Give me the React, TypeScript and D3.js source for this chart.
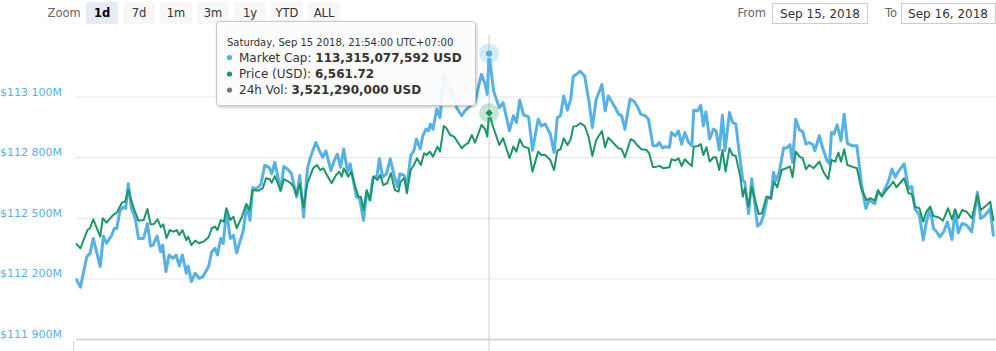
import React from 'react';
import * as d3 from 'd3';

// Sep 15 2018 11:06 (UTC+07:00), start of the 1d window
const START = Date.UTC(2018, 8, 15, 4, 6);
const DAY = 24 * 3600 * 1000;

const rangeButtons = ['1d', '7d', '1m', '3m', '1y', 'YTD', 'ALL'];
const selectedRange = '1d';
const fromDate = 'Sep 15, 2018';
const toDate = 'Sep 16, 2018';

const capTicks = [111900, 112200, 112500, 112800, 113100];

// [minutes after start, market cap in millions USD]
const capPoints: [number, number][] = [
  [1, 112195], [7, 112159], [17, 112310], [22, 112326], [27, 112400], [38, 112261], [43, 112412], [48, 112376],
  [56, 112416], [60, 112449], [64, 112449], [69, 112539], [74, 112556], [78, 112548], [82, 112671], [87, 112548],
  [93, 112499], [98, 112400], [106, 112400], [112, 112474], [117, 112362], [121, 112367], [127, 112412], [133, 112334],
  [136, 112367], [141, 112236], [146, 112318], [152, 112302], [157, 112318], [162, 112264], [167, 112318], [173, 112228],
  [176, 112264], [181, 112187], [187, 112228], [193, 112203], [199, 112211], [208, 112261], [213, 112334], [218, 112351],
  [222, 112318], [227, 112400], [231, 112376], [236, 112539], [242, 112400], [247, 112416], [252, 112329], [257, 112383],
  [262, 112433], [268, 112564], [273, 112490], [277, 112651], [283, 112646], [290, 112667], [296, 112761], [303, 112752],
  [307, 112720], [312, 112777], [321, 112638], [326, 112756], [333, 112740], [338, 112720], [346, 112605], [351, 112712],
  [357, 112506], [363, 112744], [367, 112794], [376, 112875], [382, 112834], [387, 112801], [392, 112834], [400, 112736],
  [405, 112785], [410, 112818], [415, 112752], [420, 112843], [426, 112728], [430, 112769], [435, 112687], [440, 112605],
  [445, 112597], [451, 112490], [456, 112629], [461, 112589], [466, 112703], [472, 112707], [476, 112794], [481, 112703],
  [487, 112720], [493, 112794], [499, 112712], [504, 112654], [508, 112720], [515, 112712], [519, 112654], [525, 112810],
  [530, 112834], [534, 112892], [540, 112843], [544, 112908], [549, 112941], [553, 112933], [556, 112966], [560, 112941],
  [566, 113040], [571, 112998], [577, 113212], [584, 113146], [589, 113130], [597, 113047], [605, 113007], [610, 113031],
  [618, 113056], [626, 113072], [631, 113146], [636, 113212], [642, 113162], [645, 113113], [648, 113315], [655, 113130],
  [664, 113047], [670, 113072], [680, 112933], [686, 113007], [691, 112974], [696, 113084], [702, 113011], [710, 113002],
  [716, 112836], [725, 112990], [730, 112957], [736, 112966], [744, 112917], [750, 112826], [755, 112998], [760, 113007],
  [765, 113105], [771, 113035], [776, 113089], [780, 113203], [785, 113212], [791, 113228], [798, 113203], [805, 113072],
  [810, 112949], [816, 113089], [825, 113162], [830, 113031], [835, 113105], [846, 113047], [851, 113015], [856, 113007],
  [861, 112941], [869, 113089], [875, 113080], [880, 113056], [886, 113015], [893, 113007], [898, 112990], [905, 112859],
  [911, 112859], [915, 112875], [920, 112848], [925, 112854], [931, 112851], [934, 112924], [940, 112908], [945, 112933],
  [950, 112867], [955, 112924], [961, 112875], [966, 112859], [969, 113035], [975, 113031], [980, 113059], [984, 112957],
  [988, 113026], [994, 112892], [1000, 112941], [1004, 112933], [1009, 112838], [1014, 113010], [1018, 112834], [1025, 113023],
  [1030, 112974], [1035, 112966], [1040, 112834], [1046, 112687], [1049, 112679], [1055, 112523], [1060, 112695], [1069, 112461],
  [1074, 112474], [1079, 112520], [1085, 112605], [1090, 112597], [1094, 112728], [1098, 112687], [1103, 112728], [1110, 112848],
  [1115, 112848], [1120, 112864], [1124, 112777], [1129, 112990], [1135, 112936], [1140, 112929], [1145, 112867], [1150, 112875],
  [1156, 112864], [1159, 112834], [1166, 112908], [1171, 112851], [1178, 112785], [1182, 112769], [1185, 112924], [1189, 112917],
  [1194, 112962], [1200, 112884], [1205, 113015], [1210, 112870], [1217, 112859], [1225, 112859], [1232, 112671], [1239, 112548],
  [1244, 112589], [1253, 112572], [1258, 112629], [1264, 112613], [1269, 112646], [1274, 112679], [1280, 112744], [1285, 112703],
  [1291, 112736], [1299, 112769], [1306, 112646], [1311, 112657], [1316, 112548], [1323, 112515], [1329, 112392], [1334, 112482],
  [1340, 112548], [1345, 112449], [1350, 112433], [1355, 112408], [1361, 112433], [1367, 112482], [1374, 112395], [1379, 112539],
  [1384, 112428], [1390, 112474], [1397, 112466], [1405, 112433], [1414, 112629], [1419, 112499], [1426, 112515], [1434, 112548],
  [1439, 112416],
];

// [minutes after start, price in USD]
const pricePoints: [number, number][] = [
  [1, 6496.2], [7, 6494.1], [18, 6503.2], [22, 6504.1], [27, 6508.6], [38, 6499.9], [42, 6509.1], [48, 6506.9],
  [58, 6510.7], [64, 6511.9], [72, 6516.9], [77, 6517.4], [82, 6523.2], [90, 6514.6], [98, 6507.9], [106, 6508.2],
  [112, 6513.7], [117, 6506.1], [122, 6506.2], [128, 6508.6], [133, 6504.6], [137, 6506.1], [142, 6499.1], [147, 6503.2],
  [153, 6502.4], [158, 6503.2], [162, 6500.7], [167, 6503.2], [173, 6498.2], [176, 6499.9], [181, 6495.7], [187, 6497.9],
  [193, 6496.6], [200, 6497.4], [208, 6499.6], [213, 6504.1], [218, 6504.9], [222, 6503.2], [227, 6508.2], [232, 6507.4],
  [236, 6514.1], [242, 6508.2], [247, 6509.9], [252, 6504.1], [260, 6509.6], [267, 6516.2], [272, 6513.2], [277, 6523.2],
  [286, 6522.9], [293, 6524.1], [298, 6529.1], [304, 6528.6], [307, 6526.9], [312, 6530.2], [321, 6522.9], [326, 6528.6],
  [336, 6526.9], [341, 6524.9], [346, 6520.7], [351, 6526.2], [357, 6514.5], [363, 6526.6], [372, 6534.1], [378, 6535.7],
  [383, 6533.2], [388, 6534.1], [392, 6531.6], [401, 6526.6], [408, 6530.7], [413, 6532.4], [417, 6529.9], [420, 6534.1],
  [427, 6529.9], [432, 6532.4], [438, 6524.9], [443, 6519.9], [447, 6519.9], [451, 6513.2], [456, 6523.2], [461, 6518.2],
  [467, 6529.9], [473, 6528.2], [477, 6530.7], [482, 6525.7], [488, 6526.6], [494, 6531.6], [500, 6523.2], [506, 6522.4],
  [509, 6527.4], [515, 6529.1], [519, 6521.6], [525, 6533.2], [530, 6535.7], [535, 6539.1], [541, 6535.7], [546, 6541.6],
  [550, 6540.7], [555, 6542.4], [560, 6539.9], [567, 6544.9], [571, 6542.4], [577, 6555.2], [581, 6554.1], [587, 6550.7],
  [593, 6549.9], [600, 6546.6], [605, 6544.1], [610, 6545.7], [615, 6546.6], [621, 6550.7], [626, 6546.9], [636, 6555.7],
  [642, 6553.6], [645, 6549.9], [648, 6561.72], [655, 6554.1], [664, 6545.7], [670, 6549.1], [680, 6539.1], [686, 6544.9],
  [691, 6542.4], [696, 6548.6], [702, 6544.9], [710, 6544.1], [716, 6532.4], [725, 6542.4], [730, 6540.7], [736, 6540.7],
  [744, 6538.2], [750, 6533.2], [755, 6542.9], [760, 6543.6], [765, 6549.1], [771, 6545.7], [776, 6548.6], [780, 6554.9],
  [785, 6555.2], [791, 6556.6], [798, 6555.2], [804, 6549.9], [810, 6540.2], [816, 6548.2], [825, 6552.7], [830, 6544.6],
  [835, 6549.4], [846, 6545.7], [851, 6544.1], [856, 6543.6], [861, 6539.6], [870, 6548.6], [875, 6547.9], [880, 6545.7],
  [887, 6543.6], [895, 6543.2], [899, 6541.6], [905, 6534.6], [911, 6534.9], [916, 6535.2], [921, 6534.1], [931, 6534.6],
  [934, 6538.6], [940, 6537.9], [945, 6539.1], [950, 6535.2], [955, 6538.6], [961, 6536.6], [966, 6535.2], [969, 6544.9],
  [976, 6545.2], [980, 6546.2], [984, 6540.7], [989, 6544.6], [994, 6537.4], [1000, 6539.6], [1004, 6539.6], [1009, 6533.2],
  [1014, 6543.2], [1019, 6532.4], [1025, 6544.1], [1030, 6540.7], [1035, 6540.2], [1042, 6529.9], [1046, 6519.9], [1049, 6524.1],
  [1055, 6514.9], [1060, 6524.9], [1071, 6511.2], [1076, 6511.6], [1083, 6519.9], [1090, 6519.1], [1095, 6527.4], [1100, 6524.6],
  [1107, 6533.2], [1114, 6534.1], [1120, 6534.9], [1124, 6529.6], [1129, 6542.4], [1135, 6539.9], [1140, 6539.1], [1145, 6533.6],
  [1150, 6535.7], [1157, 6534.1], [1166, 6537.4], [1173, 6531.9], [1180, 6528.6], [1185, 6538.2], [1191, 6537.4], [1196, 6541.9],
  [1200, 6537.4], [1205, 6543.6], [1210, 6535.7], [1217, 6534.9], [1225, 6534.1], [1232, 6523.6], [1240, 6518.2], [1246, 6519.1],
  [1253, 6517.9], [1258, 6523.2], [1264, 6519.9], [1271, 6523.2], [1277, 6525.2], [1282, 6527.4], [1287, 6524.6], [1299, 6529.1],
  [1306, 6521.6], [1311, 6521.2], [1316, 6514.9], [1323, 6514.1], [1329, 6507.4], [1334, 6512.4], [1340, 6514.9], [1345, 6510.2],
  [1353, 6509.6], [1360, 6507.9], [1368, 6514.1], [1374, 6508.6], [1379, 6513.6], [1384, 6509.1], [1390, 6513.2], [1397, 6512.4],
  [1405, 6509.1], [1414, 6520.7], [1419, 6513.2], [1426, 6514.9], [1434, 6517.4], [1439, 6508.2],
];

// hovered point (tooltip)
const hoverMinute = 648;
const hoverHeader = 'Saturday, Sep 15 2018, 21:54:00 UTC+07:00';
const hoverCap = 113315077592;
const hoverPrice = 6561.72;
const hoverVol = 3521290000;

const BLUE = '#55b1e7';
const GREEN = '#1b9665';
const FONT = '"DejaVu Sans", "Lucida Grande", Verdana, sans-serif';

export default function App() {
  const width = 996;
  const height = 351;
  const left = 76;
  const right = 994;
  const top = 97;
  const bottom = 339.5;

  const x = d3.scaleTime().domain([new Date(START), new Date(START + DAY)]).range([left, right]);
  const yCap = d3.scaleLinear().domain([111900, 113100]).range([bottom, top]);
  const yPrice = d3.scaleLinear().domain([6448.5, 6569.7]).range([bottom, top]);
  const t = (m: number) => new Date(START + m * 60000);

  const capLine = d3.line<[number, number]>().x(d => x(t(d[0]))).y(d => yCap(d[1]));
  const priceLine = d3.line<[number, number]>().x(d => x(t(d[0]))).y(d => yPrice(d[1]));

  const capLabel = (v: number) => '$' + d3.format(',')(v).replace(',', ' ') + 'M';

  const hx = x(t(hoverMinute));
  const capPt = capPoints.find(d => d[0] === hoverMinute)!;
  const pricePt = pricePoints.find(d => d[0] === hoverMinute)!;
  const hyCap = yCap(capPt[1]);
  const hyPrice = yPrice(pricePt[1]);

  const fmtInt = d3.format(',');
  const fmtPrice = d3.format(',.2f');

  return (
    <svg width={width} height={height} style={{ position: 'absolute', left: 0, top: 0, fontFamily: FONT }}>
      <defs>
        <filter id="tipShadow" x="-10%" y="-10%" width="130%" height="140%">
          <feDropShadow dx="1" dy="1.5" stdDeviation="1.5" floodColor="#000" floodOpacity="0.22" />
        </filter>
      </defs>
      <rect width={width} height={height} fill="#fff" />

      {/* range selector */}
      <text x={47.5} y={17} fontSize={11.5} fill="#666">Zoom</text>
      {rangeButtons.map((b, i) => {
        const bx = 86 + i * 37;
        const sel = b === selectedRange;
        return (
          <g key={b}>
            <rect x={bx} y={2} width={32} height={22} rx={2} fill={sel ? '#e6ebf5' : '#f7f7f7'} />
            <text x={bx + 16} y={17} fontSize={11.5} textAnchor="middle" fill={sel ? '#000' : '#333'} fontWeight={sel ? 'bold' : 'normal'}>{b}</text>
          </g>
        );
      })}

      <text x={766} y={17} fontSize={11.5} fill="#666" textAnchor="end">From</text>
      <rect x={772.5} y={3.5} width={95} height={20} fill="#fff" stroke="#ccc" />
      <text x={820} y={17.5} fontSize={12} fill="#333" textAnchor="middle">{fromDate}</text>
      <text x={897} y={17} fontSize={11.5} fill="#666" textAnchor="end">To</text>
      <rect x={901.5} y={3.5} width={94} height={20} fill="#fff" stroke="#ccc" />
      <text x={948} y={17.5} fontSize={12} fill="#333" textAnchor="middle">{toDate}</text>

      {/* grid + y labels */}
      {capTicks.map((v, i) => (
        <g key={v}>
          <line x1={left} x2={width} y1={yCap(v)} y2={yCap(v)} stroke={i === 0 ? '#d8d8d8' : '#e6e6e6'} strokeWidth={i === 0 ? 2 : 1} />
          <text x={0} y={yCap(v) - 1.5} fontSize={11} fill={BLUE}>{capLabel(v)}</text>
        </g>
      ))}
      <line x1={73.5} x2={73.5} y1={341} y2={height} stroke="#cfd8e6" />

      {/* crosshair */}
      <line x1={hx} x2={hx} y1={35} y2={height} stroke="#cccccc" strokeWidth={1} />

      {/* series */}
      <path d={capLine(capPoints) ?? ''} fill="none" stroke={BLUE} strokeWidth={3} strokeLinejoin="round" strokeLinecap="round" />
      <path d={priceLine(pricePoints) ?? ''} fill="none" stroke={GREEN} strokeWidth={2} strokeLinejoin="round" strokeLinecap="round" />

      {/* hover markers */}
      <circle cx={hx} cy={hyCap} r={10} fill={BLUE} fillOpacity={0.25} />
      <circle cx={hx} cy={hyCap} r={4} fill={BLUE} stroke="#fff" strokeWidth={1} />
      <circle cx={hx} cy={hyPrice} r={10} fill={GREEN} fillOpacity={0.25} />
      <path d={`M${hx},${hyPrice - 4.5}L${hx + 4.5},${hyPrice}L${hx},${hyPrice + 4.5}L${hx - 4.5},${hyPrice}Z`} fill={GREEN} stroke="#fff" strokeWidth={1} />

      {/* tooltip */}
      <g>
        <rect x={216.5} y={21.5} width={259} height={84} rx={3} fill="#fff" fillOpacity={0.88} stroke="#c8c8c8" filter="url(#tipShadow)" />
        <text x={227} y={46} fontSize={10} fill="#333">{hoverHeader}</text>
        <circle cx={229.5} cy={57.5} r={2.6} fill={BLUE} />
        <text x={239} y={61.5} fontSize={12} fill="#333">Market Cap: <tspan fontWeight="bold">{fmtInt(hoverCap)} USD</tspan></text>
        <circle cx={229.5} cy={74} r={2.6} fill={GREEN} />
        <text x={239} y={78} fontSize={12} fill="#333">Price (USD): <tspan fontWeight="bold">{fmtPrice(hoverPrice)}</tspan></text>
        <circle cx={229.5} cy={90} r={2.6} fill="#777" />
        <text x={239} y={94} fontSize={12} fill="#333">24h Vol: <tspan fontWeight="bold">{fmtInt(hoverVol)} USD</tspan></text>
      </g>
    </svg>
  );
}
